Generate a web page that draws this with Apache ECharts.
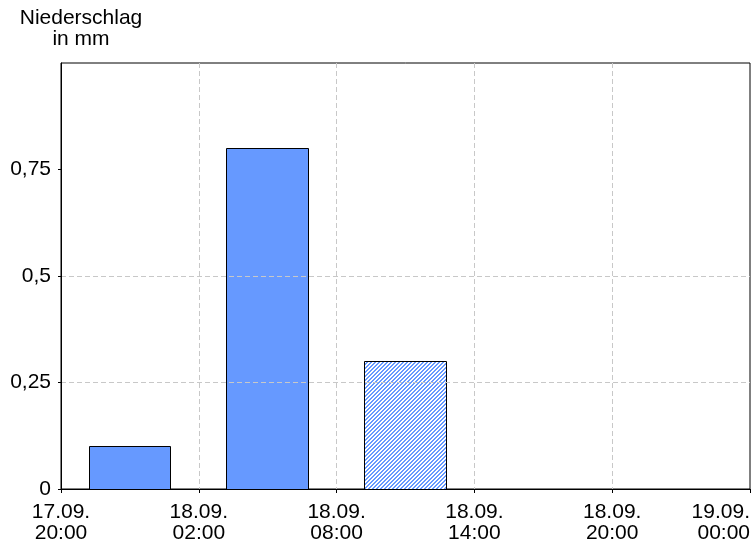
<!DOCTYPE html>
<html>
<head>
<meta charset="utf-8">
<script src="https://cdn.jsdelivr.net/npm/echarts@6/dist/echarts.min.js"></script>
<style>
html,body{margin:0;padding:0;background:#fff;}
#chart{width:756px;height:546px;}
</style>
</head>
<body>
<div id="chart"></div>
<script>
// Data
const binStartHours = [0, 6, 12, 18, 24];          // hours after 17.09. 20:00
const precipValues = [0.1, 0.8, 0.3, 0, 0];        // mm
const isForecast = [false, false, true, false, false];
const xTickLabels = ['17.09.\n20:00', '18.09.\n02:00', '18.09.\n08:00', '18.09.\n14:00', '18.09.\n20:00', '19.09.\n00:00'];
const yTickValues = [0, 0.25, 0.5, 0.75];

const FONT = 'Liberation Sans, Arial, sans-serif';
const FS = 21;
const BAR_BLUE = '#6699FF';

// hatch pattern
const pc = document.createElement('canvas');
pc.width = 4; pc.height = 4;
const pctx = pc.getContext('2d');
const img = pctx.createImageData(4, 4);
for (let y = 0; y < 4; y++) {
  for (let x = 0; x < 4; x++) {
    const i = (y * 4 + x) * 4;
    const blue = ((x + y) % 4) < 2;
    img.data[i] = blue ? 0x66 : 255;
    img.data[i + 1] = blue ? 0x99 : 255;
    img.data[i + 2] = 255;
    img.data[i + 3] = 255;
  }
}
pctx.putImageData(img, 0, 0);

const seriesData = binStartHours.map((s, i) => [s, precipValues[i], isForecast[i] ? 1 : 0]);

const chart = echarts.init(document.getElementById('chart'), null, {renderer: 'canvas'});
chart.setOption({
  animation: false,
  backgroundColor: '#fff',
  title: {
    text: 'Niederschlag\nin mm',
    left: 76,
    top: 3,
    textAlign: 'center',
    textStyle: {fontFamily: FONT, fontSize: FS, fontWeight: 'normal', color: '#000', lineHeight: 21, align: 'center'}
  },
  grid: {
    left: 61, right: 6, top: 63, bottom: 57,
    show: true, borderColor: '#000', borderWidth: 1, backgroundColor: '#fff',
    containLabel: false
  },
  xAxis: {
    type: 'value',
    min: 0, max: 30, interval: 6,
    z: 5,
    axisLine: {show: true, onZero: false, lineStyle: {color: '#000', width: 1}},
    axisTick: {show: true, length: 4, lineStyle: {color: '#000'}},
    axisLabel: {
      fontFamily: FONT, fontSize: FS, color: '#000', lineHeight: 21, margin: 13,
      alignMaxLabel: 'right',
      formatter: v => xTickLabels[Math.round(v / 6)] || ''
    },
    splitLine: {show: true, showMinLine: false, showMaxLine: false,
      lineStyle: {color: '#c8c8c8', type: [5, 3], width: 1}}
  },
  yAxis: {
    type: 'value',
    min: 0, max: 1, interval: 0.25,
    z: 5,
    axisLine: {show: true, onZero: false, lineStyle: {color: '#000', width: 1}},
    axisTick: {show: true, length: 3, customValues: yTickValues, lineStyle: {color: '#000'}},
    axisLabel: {
      fontFamily: FONT, fontSize: FS, color: '#000', margin: 10,
      customValues: yTickValues,
      formatter: v => String(v).replace('.', ',')
    },
    splitLine: {show: true, showMinLine: false, showMaxLine: false,
      lineStyle: {color: '#c8c8c8', type: [5, 3], width: 1}}
  },
  series: [{
    type: 'custom',
    z: 2,
    data: seriesData,
    encode: {x: 0, y: 1},
    renderItem: function (params, api) {
      const start = api.value(0);
      const val = api.value(1);
      if (!val) return null;
      const p0 = api.coord([start + 1.2, val]);
      const p1 = api.coord([start + 4.75, 0]);
      const x0 = Math.round(p0[0]) + 0.5, x1 = Math.round(p1[0]) + 0.5;
      const y0 = Math.round(p0[1]) + 0.5, y1 = Math.round(p1[1]) + 0.5;
      const forecast = api.value(2) === 1;
      return {
        type: 'rect',
        shape: {x: x0, y: y0, width: x1 - x0, height: y1 - y0},
        style: {
          fill: forecast ? {image: pc, repeat: 'repeat'} : BAR_BLUE,
          stroke: '#000',
          lineWidth: 1
        }
      };
    }
  }]
});
</script>
</body>
</html>
